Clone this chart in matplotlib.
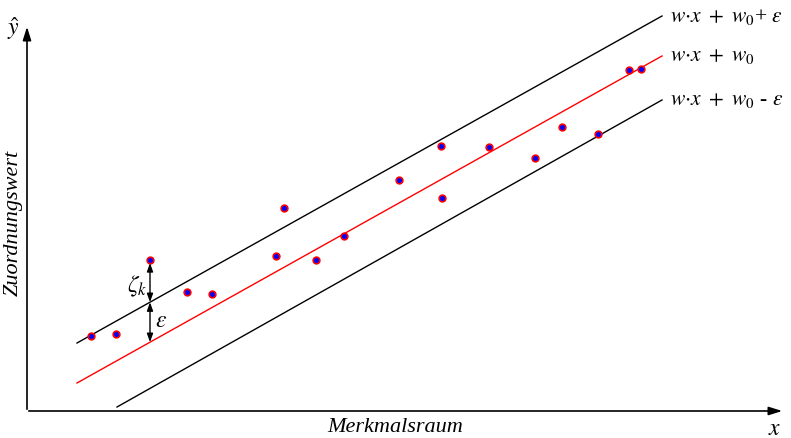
import numpy as np
import matplotlib.pyplot as plt

plt.rcParams['mathtext.fontset'] = 'stix'
plt.rcParams['font.family'] = ['Liberation Serif', 'DejaVu Serif']

# data in picture units (y grows downward)
pts_x = [91, 116, 150, 187, 212, 276, 284, 316, 344, 399, 441, 442, 489, 535, 562, 598, 629, 641]
pts_y = [337, 335, 261, 293, 295, 257, 209, 261, 237, 181, 147, 199, 148, 159, 128, 135, 71, 70]

upper_x = [77, 662]
upper_y = [344, 17]
mid_x = [77, 662]
mid_y = [384, 57]
lower_x = [117, 662]
lower_y = [408, 101]

line_labels = [r'$w{\cdot}x\ +\ w_0$+ $\varepsilon$', r'$w{\cdot}x\ +\ w_0$', r'$w{\cdot}x\ +\ w_0$ - $\varepsilon$']

fig = plt.figure(figsize=(7.91, 4.39), dpi=100)
ax = fig.add_axes([0, 0, 1, 1])
ax.set_xlim(0, 791)
ax.set_ylim(439, 0)
ax.axis('off')

# axes with arrows
ax.annotate('', xy=(785, 412), xytext=(26, 412),
            arrowprops=dict(arrowstyle='-|>,head_length=0.8,head_width=0.25', color='black', lw=1.2))
ax.annotate('', xy=(27, 25), xytext=(27, 413),
            arrowprops=dict(arrowstyle='-|>,head_length=0.8,head_width=0.25', color='black', lw=1.2))

ax.plot(upper_x, upper_y, color='black', lw=1)
ax.plot(mid_x, mid_y, color='red', lw=1)
ax.plot(lower_x, lower_y, color='black', lw=1)

ax.plot(pts_x, pts_y, 'o', ms=4.8, mfc='blue', mec='red', mew=1.2, ls='none')

# slack arrows at the third point
xk = pts_x[2]
up_k = np.interp(xk, upper_x, upper_y)
mid_k = np.interp(xk, mid_x, mid_y)
arr = dict(arrowstyle='<|-|>,head_length=0.5,head_width=0.18', color='black', lw=1, shrinkA=0, shrinkB=0)
ax.annotate('', xy=(xk, pts_y[2] + 3), xytext=(xk, up_k), arrowprops=arr)
ax.annotate('', xy=(xk, up_k), xytext=(xk, mid_k), arrowprops=arr)
ax.text(xk - 3, (pts_y[2] + up_k) / 2 + 4, r'$\zeta_k$', fontsize=17, ha='right', va='center')
ax.text(xk + 5, (up_k + mid_k) / 2 - 2, r'$\varepsilon$', fontsize=17, ha='left', va='center')

for lbl, yy in zip(line_labels, [upper_y[1], mid_y[1], lower_y[1]]):
    ax.text(670, yy, lbl, fontsize=15.5, ha='left', va='center')

ax.text(13, 29, r'$\hat{y}$', fontsize=17, ha='center', va='center')
ax.text(775, 430, r'$x$', fontsize=17, ha='center', va='center')
ax.text(395, 428, 'Merkmalsraum', fontsize=16, style='italic', ha='center', va='center')
ax.text(13, 223, 'Zuordnungswert', fontsize=16, style='italic', rotation=90, ha='center', va='center')

fig.savefig('out.png', dpi=100)
